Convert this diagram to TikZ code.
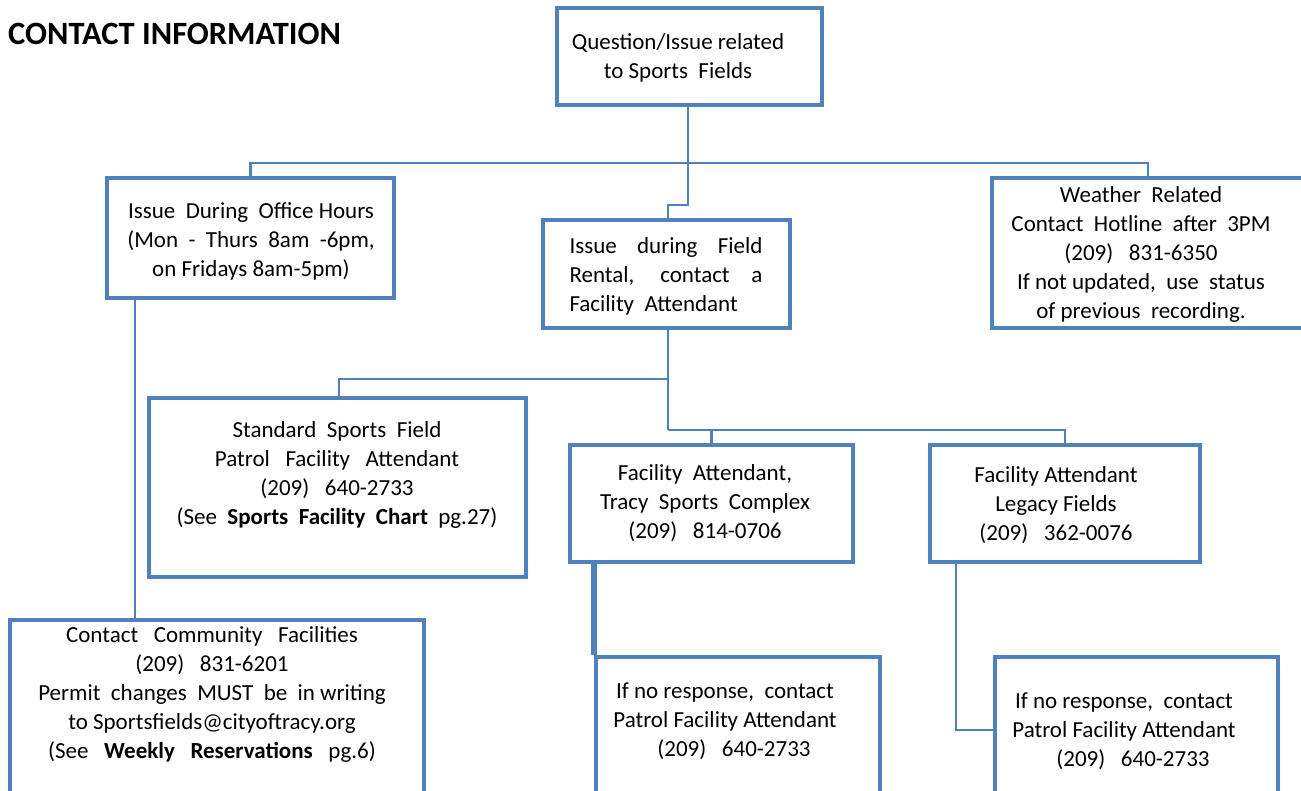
\documentclass[tikz,border=0pt]{standalone}
\usepackage{fontspec}
\setmainfont{Carlito}
\definecolor{chartblue}{RGB}{79,129,189}
\begin{document}
\begin{tikzpicture}[x=1pt,y=-1pt,
    box/.style={draw=chartblue,line width=3.5pt,rectangle,inner sep=0pt},
    link/.style={draw=chartblue,line width=2.2pt},
    txt/.style={align=center,font=\fontsize{23}{29}\selectfont,inner sep=0pt}]
    \useasboundingbox (0,0) rectangle (1301,791);
    \clip (0,0) rectangle (1301,791);
    % title
    \node [anchor=west,inner sep=0pt,font=\fontsize{32.5}{38}\selectfont\bfseries] (title) at (8,34) {CONTACT INFORMATION};
    % boxes
    \node [box,minimum width=265,minimum height=97] (quest) at (689.5,56.5) {};
    \node [box,minimum width=287,minimum height=120] (office) at (250.5,238) {};
    \node [box,minimum width=247,minimum height=108] (rental) at (666.5,274) {};
    \node [box,minimum width=312,minimum height=150] (weather) at (1148,253) {};
    \node [box,minimum width=377,minimum height=179] (std) at (337.5,487.5) {};
    \node [box,minimum width=283,minimum height=117] (tracy) at (711.5,503.5) {};
    \node [box,minimum width=270,minimum height=117] (legacy) at (1065,503.5) {};
    \node [box,minimum width=414,minimum height=180] (comm) at (217,710) {};
    \node [box,minimum width=284,minimum height=146] (noresp1) at (738,730) {};
    \node [box,minimum width=283,minimum height=146] (noresp2) at (1136.5,730) {};
    % texts
    \node [txt] (tquest) at (678,58) {Question/Issue related\\to Sports~~Fields};
    \node [txt] (toffice) at (251,241) {Issue~~During~~Office Hours\\(Mon~~-~~Thurs~~8am~~-6pm,\\on Fridays 8am-5pm)};
    \node [txt,align=left] (trental) at (666,276) {\makebox[193pt][s]{Issue during Field}\\\makebox[193pt][s]{Rental, contact a}\\Facility~~Attendant};
    \node [txt] (tweather) at (1141,254) {Weather~~Related\\Contact~~Hotline~~after~~3PM\\(209)~~~831-6350\\If not updated,~~use~~status\\of previous~~recording.};
    \node [txt] (tstd) at (337,475) {Standard~~Sports~~Field\\Patrol~~~Facility~~~Attendant\\(209)~~~640-2733\\(See~~\textbf{Sports~~Facility~~Chart}~~pg.27)};
    \node [txt] (ttracy) at (705,503) {Facility~~Attendant,\\Tracy~~Sports~~Complex\\(209)~~~814-0706};
    \node [txt] (tlegacy) at (1056,505) {Facility Attendant\\Legacy Fields\\(209)~~~362-0076};
    \node [txt] (tcomm) at (212,694) {Contact~~~Community~~~Facilities\\(209)~~~831-6201\\Permit~~changes~~MUST~~be~~in writing\\to Sportsfields@cityoftracy.org\\(See~~~\textbf{Weekly~~~Reservations}~~~pg.6)};
    \node [txt] (tnr1) at (725,721) {If no response,~~contact\\Patrol Facility Attendant\\\hspace{18pt}(209)~~~640-2733};
    \node [txt] (tnr2) at (1124,731) {If no response,~~contact\\Patrol Facility Attendant\\\hspace{18pt}(209)~~~640-2733};
    % junctions
    \coordinate (bustop) at (688,163);
    \coordinate (busmid) at (668,379);
    \coordinate (buslow) at (668,430);
    \path ([xshift=30pt]office.south west) coordinate (offdrop);
    \path ([xshift=28pt]legacy.south west) coordinate (legdrop);
    % connectors
    \draw [link] ([xshift=-1.5pt]quest.south) -- (bustop);
    \draw [link] (office.north) |- (bustop) -| (weather.north);
    \draw [link] (bustop) -- ++(0,42) -| ([xshift=1.5pt]rental.north);
    \draw [link] (offdrop) -- (offdrop |- comm.north);
    \draw [link] ([xshift=1.5pt]rental.south) -- (buslow);
    \draw [link] (busmid) -| ([xshift=1.5pt]std.north);
    \draw [link] (buslow) -| (tracy.north);
    \draw [link] (buslow) -| (legacy.north);
    \draw [draw=chartblue,line width=6pt] (noresp1.north west) -- (noresp1.north west |- tracy.south);
    \draw [link] (legdrop) |- (noresp2.west);
\end{tikzpicture}
\end{document}
